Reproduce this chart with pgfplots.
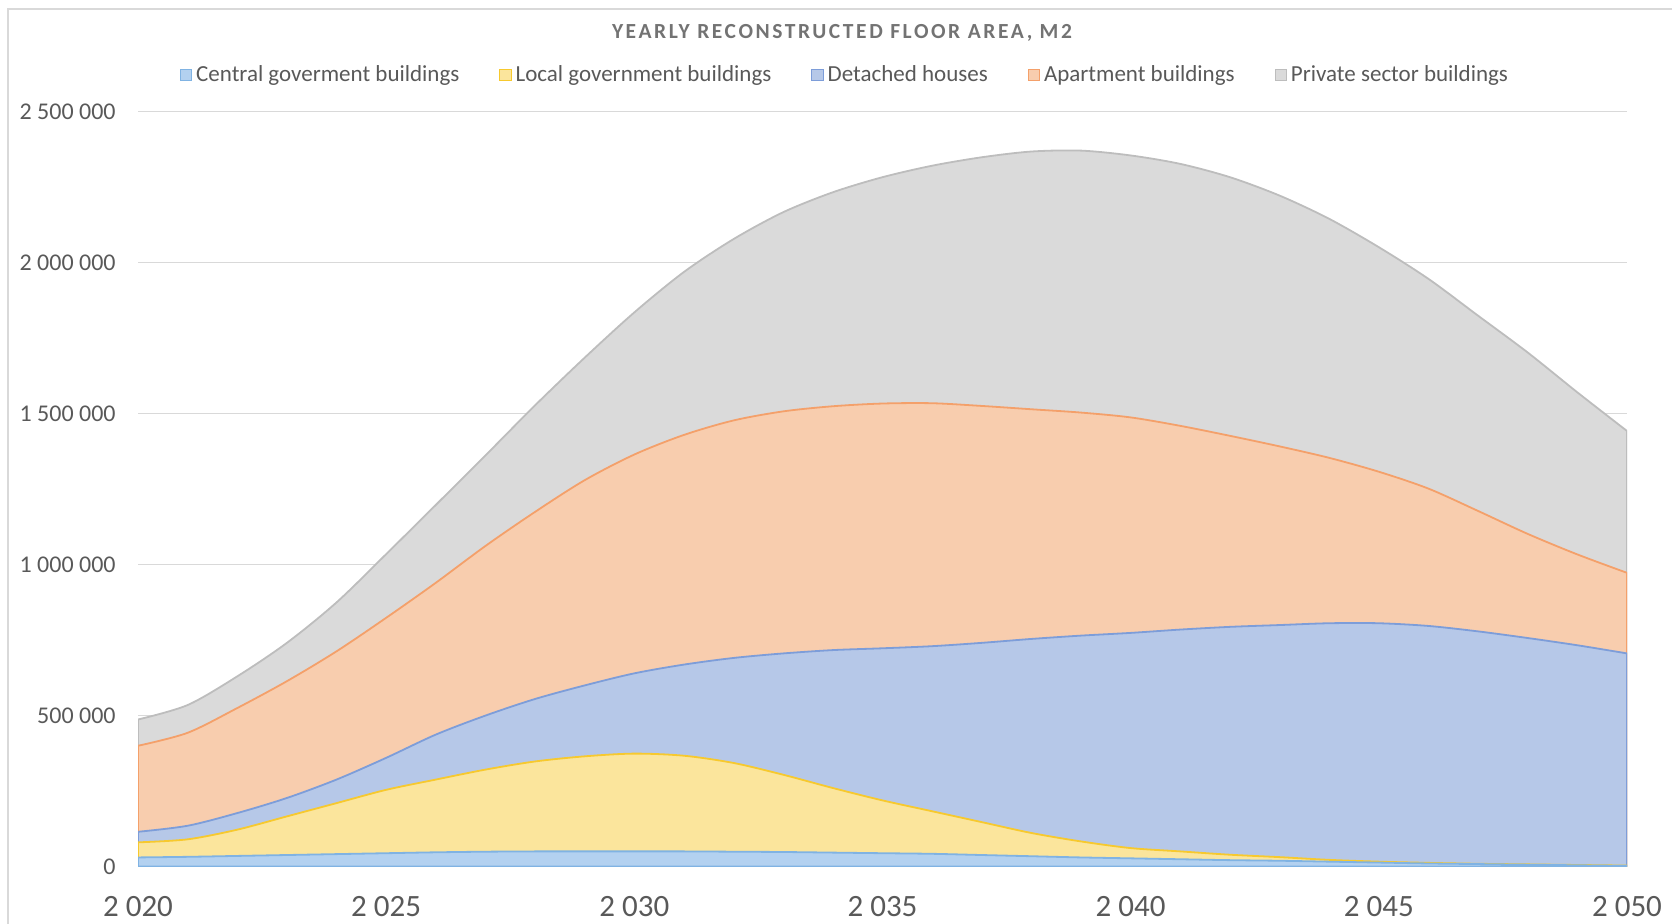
\documentclass[border=0pt]{standalone}
\usepackage{fontspec}
\setmainfont{Carlito}
\newfontfamily\titlefont{Carlito}[LetterSpace=12]
\usepackage{pgfplots}
\pgfplotsset{compat=1.18}
\usepackage{pgfplotstable}

\definecolor{gridc}{HTML}{D9D9D9}
\definecolor{txt}{HTML}{595959}
\definecolor{ttl}{HTML}{737373}
\definecolor{cF}{HTML}{B3D1F0}\definecolor{cD}{HTML}{80B3E3}
\definecolor{lF}{HTML}{FBE59C}\definecolor{lD}{HTML}{F7C92E}
\definecolor{dF}{HTML}{B6C8E8}\definecolor{dD}{HTML}{7D9DD9}
\definecolor{aF}{HTML}{F8CDAE}\definecolor{aD}{HTML}{F4A06A}
\definecolor{pF}{HTML}{DADADA}\definecolor{pD}{HTML}{BDBDBD}

% thousand m2 per year
\pgfplotstableread{
year c l d a p
2020 30 50 35 285 87
2021 32 58 45 308 92
2022 35 87 55 348 105
2023 38 128 61 387 127
2024 41 169 78 425 162
2025 44 210 106 464 211
2026 47 241 149 503 258
2027 49 272 179 562 300
2028 50 298 207 620 353
2029 50 315 235 680 406
2030 50 324 266 725 471
2031 50 317 302 761 540
2032 49 294 348 787 601
2033 48 256 402 802 660
2034 46 214 457 808 709
2035 44 175 504 811 750
2036 42 141 547 805 787
2037 38 109 594 785 824
2038 34 77 643 761 854
2039 30 53 682 739 868
2040 27 34 713 714 868
2041 24 26 735 675 868
2042 21 18 755 633 857
2043 19 12 769 592 831
2044 16 6 784 548 792
2045 13 3 790 502 744
2046 10 2 785 455 695
2047 8 1 770 399 647
2048 6 1 750 345 601
2049 4 1 728 301 537
2050 2 1 703 267 470
}\data

\begin{document}
\begin{tikzpicture}[x=1pt,y=1pt]
\useasboundingbox (0,0) rectangle (836,462);
\draw[gridc, line width=0.6pt] (4,0) -- (4,457.5) -- (836,457.5);
\node[text=ttl, font={\titlefont\bfseries\fontsize{10.75}{12}\selectfont}] at (421,445.5) {YEARLY RECONSTRUCTED FLOOR AREA, M2};
\begin{axis}[
  at={(69pt,28.75pt)}, anchor=south west,
  scale only axis, width=744.5pt, height=377.25pt,
  xmin=2020, xmax=2050, ymin=0, ymax=2500,
  axis line style={draw=none},
  major tick length=0pt,
  ymajorgrids, grid style={gridc, line width=0.5pt},
  ytick={0,500,1000,1500,2000,2500},
  yticklabels={0,500 000,1 000 000,1 500 000,2 000 000,2 500 000},
  xtick={2020,2025,2030,2035,2040,2045,2050},
  xticklabels={2 020,2 025,2 030,2 035,2 040,2 045,2 050},
  yticklabel style={font=\fontsize{12}{14}\selectfont, text=txt, inner sep=0pt, xshift=-11pt},
  xticklabel style={font=\fontsize{15.5}{18}\selectfont, text=txt, inner sep=0pt, yshift=-14.7pt},
  reverse legend,
  legend columns=5,
  legend style={draw=none, fill=none, at={(0.4755,1.0485)}, anchor=center,
    font=\fontsize{11.5}{13}\selectfont, text=txt,
    /tikz/every even column/.append style={column sep=18pt}},
  legend cell align=left,
  legend image code/.code={\draw[#1, line width=0.5pt] (0pt,-2.8pt) rectangle (5.6pt,2.8pt);},
  every axis plot/.append style={smooth, line width=0.9pt},
]
\addplot[draw=pD, fill=pF] table[x=year, y expr=\thisrow{c}+\thisrow{l}+\thisrow{d}+\thisrow{a}+\thisrow{p}] {\data} \closedcycle;
\addlegendentry{Private sector buildings}
\addplot[draw=aD, fill=aF] table[x=year, y expr=\thisrow{c}+\thisrow{l}+\thisrow{d}+\thisrow{a}] {\data} \closedcycle;
\addlegendentry{Apartment buildings}
\addplot[draw=dD, fill=dF] table[x=year, y expr=\thisrow{c}+\thisrow{l}+\thisrow{d}] {\data} \closedcycle;
\addlegendentry{Detached houses}
\addplot[draw=lD, fill=lF] table[x=year, y expr=\thisrow{c}+\thisrow{l}] {\data} \closedcycle;
\addlegendentry{Local government buildings}
\addplot[draw=cD, fill=cF] table[x=year, y=c] {\data} \closedcycle;
\addlegendentry{Central goverment buildings}
\end{axis}
\end{tikzpicture}
\end{document}
